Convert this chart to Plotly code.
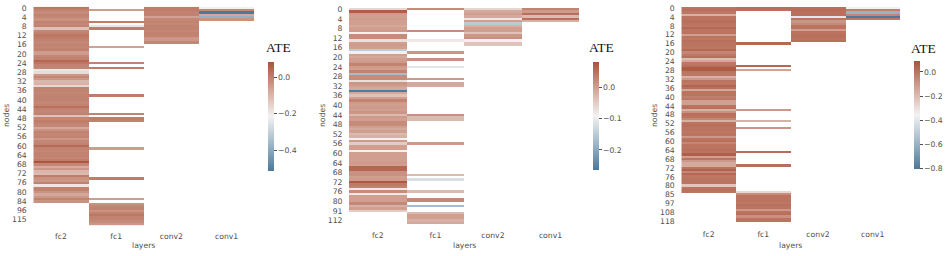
import plotly.graph_objects as go

W, H = 952, 256
N = None
layers = ["fc2", "fc1", "conv2", "conv1"]

# ---------- panel 1 ----------
p1_ticks = list(range(0, 85, 4)) + [88, 92]
p1_labels = [str(i) for i in range(0, 85, 4)] + ["96", "115"]
p1_fc2 = [0.02,0.0,-0.02,0.0,-0.01,-0.03,0.0,-0.01,0.0,-0.12,
          -0.01,0.0,0.02,0.01,0.0,-0.01,0.0,-0.01,0.0,-0.05,
          -0.05,-0.01,0.0,0.05,0.02,0.0,-0.01,-0.19,-0.17,-0.04,
          -0.01,-0.04,-0.1,-0.09,-0.16,0.0,0.0,-0.01,0.0,0.0,
          0.0,-0.01,0.0,0.03,0.0,-0.01,0.0,-0.12,-0.01,0.01,
          0.0,-0.01,-0.07,-0.03,0.0,-0.01,0.0,-0.04,-0.01,0.0,
          0.04,0.0,-0.01,0.0,0.0,-0.01,0.01,0.08,-0.01,-0.08,
          -0.04,-0.1,-0.11,0.01,-0.03,-0.04,0.0,-0.19,0.0,0.0,
          -0.03,-0.07,-0.04,0.0,-0.03,N,N,N,N,N,N,N,N,N,N]
p1_fc1 = [N,-0.05,N,N,N,N,0.01,N,-0.19,0.01,
          N,N,N,N,N,N,N,-0.06,N,N,
          N,N,N,N,0.0,N,0.01,N,N,N,
          N,N,N,N,N,N,N,N,0.01,N,
          N,N,N,N,N,N,0.0,N,0.01,0.0,
          N,N,N,N,N,N,N,N,N,N,
          N,-0.05,N,N,N,N,N,N,N,N,
          N,N,N,N,0.01,N,N,N,N,N,
          N,N,N,-0.05,N,-0.03,-0.01,0.0,-0.03,0.0,
          0.02,0.0,-0.01,-0.02,-0.04]
p1_conv2 = [0.01,0.01,0.0,0.0,-0.06,-0.01,0.0,-0.01,0.0,0.0,-0.01,0.0,0.0,-0.04,-0.04,-0.01] + [N]*79
p1_conv1 = [-0.21,-0.01,-0.51,-0.07,-0.38,-0.03] + [N]*89

# ---------- panel 2 ----------
p2_ticks = list(range(0, 81, 4)) + [84, 88]
p2_labels = [str(i) for i in range(0, 81, 4)] + ["91", "112"]
p2_fc2 = [-0.06,0.07,0.005,0.0,0.005,0.0,0.0,-0.01,0.0,0.005,
          -0.09,0.02,0.02,-0.07,0.0,0.005,0.0,-0.15,-0.09,0.0,
          -0.01,0.0,0.005,0.03,0.005,0.0,0.03,-0.17,0.02,0.02,
          -0.07,0.01,0.0,-0.01,-0.26,-0.01,-0.04,0.0,0.03,0.005,
          0.0,0.005,0.0,0.01,-0.03,0.005,0.0,0.02,0.02,0.0,
          -0.01,0.0,-0.03,-0.02,-0.09,0.005,-0.05,0.0,0.0,-0.09,
          0.0,0.0,0.0,0.0,0.005,0.0,0.06,0.06,0.015,0.015,
          0.0,0.005,0.075,0.04,0.03,-0.08,0.02,-0.08,0.0,0.0,
          0.0,0.025,-0.02,0.0,-0.05,N,N,N,N,N]
p2_fc1 = [0.02,N,N,N,N,N,N,N,N,0.02,
          N,N,N,-0.08,N,N,N,N,0.01,N,
          N,0.015,N,N,-0.11,N,N,N,N,0.005,
          N,-0.01,-0.01,N,N,N,N,N,N,N,
          N,N,N,N,0.015,-0.03,-0.03,N,N,N,
          N,N,N,N,N,N,0.005,N,N,N,
          N,N,N,N,N,N,N,N,N,-0.03,
          N,-0.12,N,N,N,N,-0.03,N,N,0.025,
          0.025,N,-0.17,N,N,-0.03,0.0,0.0,-0.02,-0.01]
p2_conv2 = [-0.06,-0.01,0.0,-0.01,-0.08,0.0,-0.15,-0.02,0.0,0.0,-0.04,0.01,0.015,-0.09,-0.04,-0.04] + [N]*74
p2_conv1 = [0.03,0.005,0.05,-0.03,0.05,-0.02] + [N]*84

# ---------- panel 3 ----------
p3_ticks = list(range(0, 81, 4)) + [84, 88, 92, 96]
p3_labels = [str(i) for i in range(0, 81, 4)] + ["85", "97", "108", "118"]
p3_fc2 = [0.0,0.01,-0.01,-0.17,0.0,0.0,0.01,0.0,-0.01,0.03,
          0.0,0.0,-0.12,0.0,-0.01,0.01,0.0,0.0,-0.01,0.03,
          -0.05,-0.01,0.01,-0.2,-0.14,-0.01,0.01,0.07,0.07,0.0,
          -0.01,-0.17,-0.1,0.0,-0.01,0.04,0.01,-0.14,0.0,0.0,
          -0.03,-0.01,-0.12,-0.12,0.0,0.01,-0.17,-0.08,0.01,0.0,
          -0.05,-0.17,0.0,0.01,0.0,0.0,-0.01,0.0,-0.1,0.0,
          0.01,-0.05,0.0,0.0,0.01,0.0,0.06,-0.12,0.0,-0.1,
          -0.15,-0.15,0.0,0.05,-0.05,0.03,-0.01,0.0,0.0,0.0,
          -0.23,0.0,0.01,0.0,N,N,N,N,N,N,N,N,N,N,N,N,N]
p3_fc1 = [0.02,0.01,N,N,N,N,N,N,N,N,
          N,N,N,N,N,N,0.03,N,N,N,
          N,N,N,N,N,N,0.03,N,-0.13,N,
          N,N,N,N,N,N,N,N,N,N,
          N,N,N,N,N,N,-0.1,N,N,N,
          N,-0.17,N,N,-0.09,N,N,N,N,N,
          N,N,N,N,N,0.02,N,N,N,N,
          N,0.01,N,N,N,N,N,N,N,N,
          N,N,N,-0.28,-0.07,0.0,0.0,0.0,-0.01,0.01,
          0.0,-0.1,0.0,0.01,-0.08,0.0,0.0]
p3_conv2 = [0.01,0.02,0.01,0.01,-0.4,0.0,-0.09,-0.06,0.0,0.0,-0.12,0.0,0.01,0.01,0.0,0.01] + [N]*81
p3_conv1 = [-0.36,-0.03,-0.6,-0.05,-0.8,-0.01] + [N]*91

# ---------- layout constants, in pixels ----------
panels = [
    dict(x0=33.3, x1=254.2, y0=6.7, y1=225.2, bar=(267.7, 61.3, 170.7), zr=(-0.513, 0.086),
         bt=[0.0, -0.2, -0.4], ticks=p1_ticks, labels=p1_labels,
         cols=[p1_fc2, p1_fc1, p1_conv2, p1_conv1], ate=(278, 47), xt=143, yt=6),
    dict(x0=349.0, x1=579.3, y0=8.0, y1=224.2, bar=(593.3, 62, 170), zr=(-0.264, 0.081),
         bt=[0.0, -0.1, -0.2], ticks=p2_ticks, labels=p2_labels,
         cols=[p2_fc2, p2_fc1, p2_conv2, p2_conv1], ate=(601.7, 47.5), xt=464, yt=322),
    dict(x0=681.3, x1=900.0, y0=7.0, y1=222.4, bar=(914, 61, 169), zr=(-0.803, 0.091),
         bt=[0.0, -0.2, -0.4, -0.6, -0.8], ticks=p3_ticks, labels=p3_labels,
         cols=[p3_fc2, p3_fc1, p3_conv2, p3_conv1], ate=(923, 48), xt=790.7, yt=654),
]

GREY = "#505050"
FONT = "DejaVu Sans"
fig = go.Figure()
layout = {}
ann = []
for i, p in enumerate(panels, start=1):
    n = len(p["cols"][0])
    z = [[col[r] for col in p["cols"]] for r in range(n)]
    bx, by0, by1 = p["bar"]
    fig.add_trace(go.Heatmap(
        z=z, x=layers, y=list(range(n)), xaxis=f"x{i}", yaxis=f"y{i}",
        zmin=p["zr"][0], zmax=p["zr"][1], hoverongaps=False,
        colorscale=[[0, "#4b789a"], [0.25, "#a0b8c9"], [0.5, "#f3f2f2"],
                    [0.75, "#d2a496"], [1, "#aa533b"]],
        colorbar=dict(
            x=bx / W, xanchor="left", xpad=0, thickness=5.5,
            y=1 - by1 / H, yanchor="bottom", ypad=0, len=(by1 - by0) / H, lenmode="fraction",
            outlinewidth=0, ticks="outside", ticklen=3, tickwidth=1, tickcolor=GREY,
            tickvals=p["bt"], ticktext=[("\u2212" if v < 0 else "") + f"{abs(v):.1f}" for v in p["bt"]],
            tickfont=dict(family=FONT, size=7.7, color=GREY),
        ),
    ))
    sfx = "" if i == 1 else str(i)
    layout[f"xaxis{sfx}"] = dict(
        domain=[p["x0"] / W, p["x1"] / W], anchor=f"y{sfx}", type="category",
        categoryorder="array", categoryarray=layers, showgrid=False, zeroline=False,
        showline=False, ticks="outside", ticklen=4, tickcolor="rgba(0,0,0,0)",
        tickfont=dict(family=FONT, size=7.7, color=GREY),
    )
    layout[f"yaxis{sfx}"] = dict(
        domain=[1 - p["y1"] / H, 1 - p["y0"] / H], anchor=f"x{sfx}", range=[n - 0.5, -0.5],
        tickmode="array", tickvals=p["ticks"], ticktext=p["labels"], showgrid=False,
        zeroline=False, showline=False, ticks="outside", ticklen=4, tickcolor="rgba(0,0,0,0)",
        tickfont=dict(family=FONT, size=7.7, color=GREY),
    )
    ann.append(dict(text="ATE", x=p["ate"][0] / W, y=1 - p["ate"][1] / H, xref="paper", yref="paper",
                    showarrow=False, xanchor="center", yanchor="middle",
                    font=dict(family="Liberation Serif", size=13.5, color="#111111")))
    ann.append(dict(text="layers", x=p["xt"] / W, y=1 - 245 / H, xref="paper", yref="paper",
                    showarrow=False, xanchor="center", yanchor="middle",
                    font=dict(family=FONT, size=7.7, color=GREY)))
    ann.append(dict(text="nodes", x=p["yt"] / W, y=1 - 116 / H, xref="paper", yref="paper",
                    showarrow=False, xanchor="center", yanchor="middle", textangle=-90,
                    font=dict(family=FONT, size=7.7, color=GREY)))

fig.update_layout(width=W, height=H, margin=dict(l=0, r=0, t=0, b=0, autoexpand=False), autosize=False,
                  paper_bgcolor="white", plot_bgcolor="white", showlegend=False,
                  annotations=ann, **layout)
fig.write_html("out.html", config={"displayModeBar": False},
               post_script="document.body.style.margin='0';"
                           "var s=document.createElement('style');"
                           "s.textContent='.hm image{filter:blur(0.7px);}';"
                           "document.head.appendChild(s);")
